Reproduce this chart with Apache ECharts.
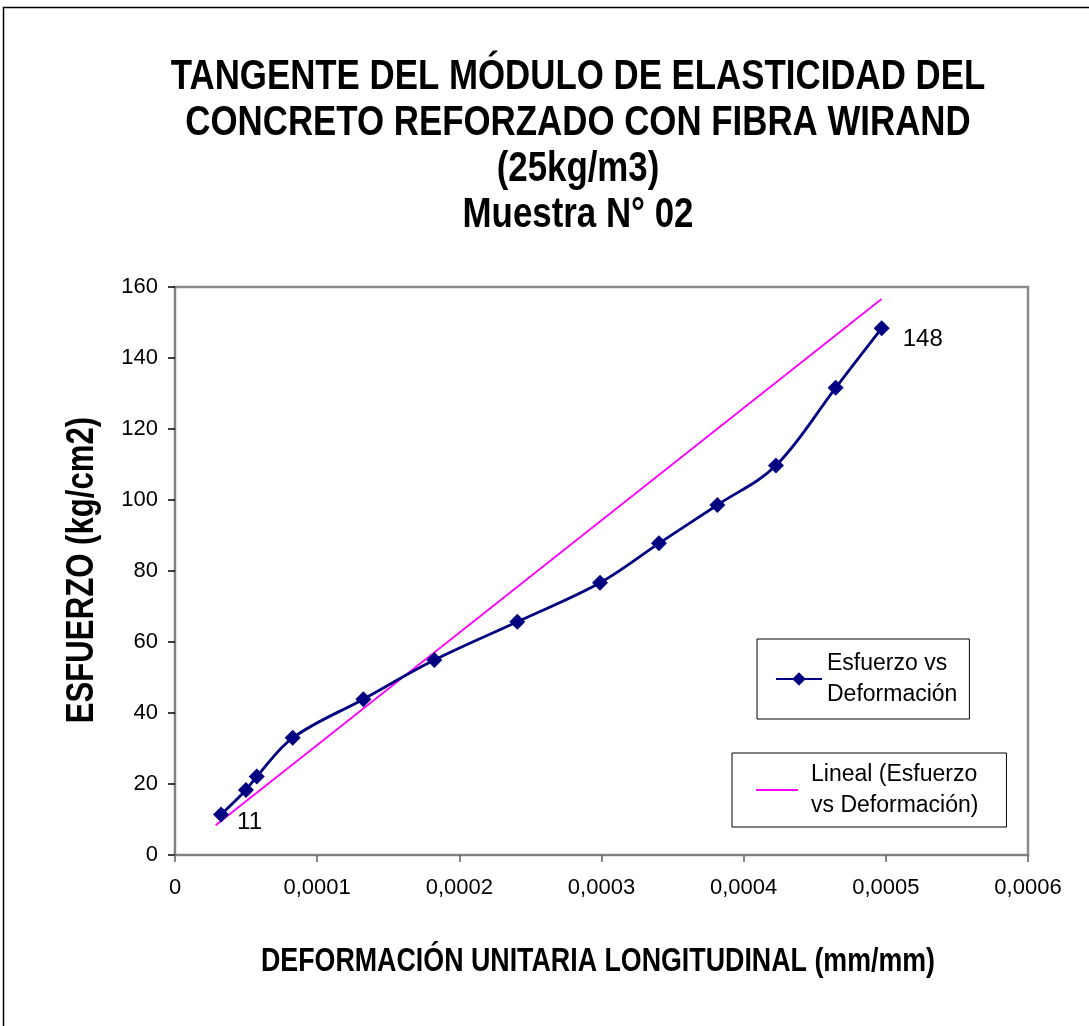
<!DOCTYPE html>
<html>
<head>
<meta charset="utf-8">
<script src="https://cdn.jsdelivr.net/npm/echarts@6/dist/echarts.min.js"></script>
<style>
html,body{margin:0;padding:0;background:#fff;}
#chart{width:1089px;height:1026px;}
</style>
</head>
<body>
<div id="chart"></div>
<script>
// ---- data ----
const strain = [0.0000324, 0.0000499, 0.0000575, 0.0000828, 0.0001325, 0.0001824, 0.0002408, 0.000299, 0.0003404, 0.0003815, 0.0004227, 0.0004647, 0.0004971];
const stress = [11.4, 18.3, 22.1, 33.0, 43.9, 54.9, 65.7, 76.7, 87.8, 98.6, 109.7, 131.6, 148.4];
const trendX = [0.0000286, 0.000497];
const trendY = [8.4, 156.6];
const titleLines = ['TANGENTE DEL MÓDULO DE ELASTICIDAD DEL', 'CONCRETO REFORZADO CON FIBRA WIRAND', '(25kg/m3)', 'Muestra N° 02'];
const seriesName = 'Esfuerzo vs Deformación';
const trendName = 'Lineal (Esfuerzo vs Deformación)';
const xName = 'DEFORMACIÓN UNITARIA LONGITUDINAL (mm/mm)';
const yName = 'ESFUERZO (kg/cm2)';

const FN = "'Liberation Sans', Arial, sans-serif";
const NARROW = 0.82;

const mainData = strain.map((x, i) => {
  const item = { value: [x, stress[i]] };
  if (i === 0) item.label = { show: true, position: 'right', offset: [3, 8] };
  if (i === strain.length - 1) item.label = { show: true, position: 'right', offset: [8, 11] };
  return item;
});
const trendData = trendX.map((x, i) => [x, trendY[i]]);

const chart = echarts.init(document.getElementById('chart'), null, { renderer: 'canvas' });
chart.setOption({
  backgroundColor: '#fff',
  animation: false,
  graphic: [{
    type: 'rect', silent: true, z: -10,
    shape: { x: 3.5, y: 7.5, width: 1200, height: 1200 },
    style: { fill: 'none', stroke: '#000', lineWidth: 1.5 }
  }, {
    type: 'text', silent: true, x: 578, y: 54, scaleX: NARROW,
    style: {
      text: titleLines.join('\n'), fill: '#000', textAlign: 'center', textVerticalAlign: 'top',
      fontFamily: FN, fontWeight: 'bold', fontSize: 42.5, lineHeight: 46
    }
  }, {
    type: 'text', silent: true, x: 83, y: 570, rotation: Math.PI / 2, scaleX: NARROW,
    style: {
      text: yName, fill: '#000', textAlign: 'center', textVerticalAlign: 'middle',
      fontFamily: FN, fontWeight: 'bold', fontSize: 38
    }
  }, {
    type: 'text', silent: true, x: 598, y: 962, scaleX: NARROW,
    style: {
      text: xName, fill: '#000', textAlign: 'center', textVerticalAlign: 'middle',
      fontFamily: FN, fontWeight: 'bold', fontSize: 32.7
    }
  }],
  grid: {
    left: 175, right: 61, top: 287, bottom: 171,
    show: true, borderColor: '#8a8a8a', borderWidth: 2.5, backgroundColor: '#fff'
  },
  legend: [{
    data: [seriesName], left: 757, top: 639, orient: 'vertical',
    padding: [9, 12, 9, 18], borderColor: '#000', borderWidth: 1,
    itemWidth: 46, itemHeight: 17, itemGap: 0,
    formatter: () => 'Esfuerzo vs\nDeformación',
    textStyle: { fontFamily: FN, fontSize: 23, lineHeight: 31, color: '#000' }
  }, {
    data: [trendName], left: 732, top: 753, orient: 'vertical',
    padding: [6, 28, 6, 23], borderColor: '#000', borderWidth: 1,
    itemWidth: 42, itemHeight: 13, itemGap: 0,
    itemStyle: { color: 'rgba(0,0,0,0)', opacity: 0 },
    formatter: () => 'Lineal (Esfuerzo\nvs Deformación)',
    textStyle: { fontFamily: FN, fontSize: 23, lineHeight: 31, color: '#000', padding: [0, 0, 0, 8] }
  }],
  xAxis: {
    type: 'value', min: 0, max: 0.0006, interval: 0.0001,
    axisLine: { show: true, lineStyle: { color: '#808080', width: 2 } },
    axisTick: { show: true, length: 7, lineStyle: { color: '#606060', width: 1.5 } },
    axisLabel: {
      margin: 22, color: '#000', fontFamily: FN, fontSize: 22,
      formatter: v => v === 0 ? '0' : v.toFixed(4).replace('.', ',')
    },
    splitLine: { show: false }
  },
  yAxis: {
    type: 'value', min: 0, max: 160, interval: 20,
    axisLine: { show: true, lineStyle: { color: '#808080', width: 2 } },
    axisTick: { show: true, length: 7, lineStyle: { color: '#000', width: 1.5 } },
    axisLabel: { margin: 17, color: '#000', fontFamily: FN, fontSize: 22 },
    splitLine: { show: false }
  },
  series: [{
    name: trendName, type: 'line', data: trendData,
    symbol: 'none', showSymbol: false, z: 2,
    lineStyle: { color: '#FF00FF', width: 1.8 },
    itemStyle: { color: '#FF00FF' }
  }, {
    name: seriesName, type: 'line', data: mainData,
    smooth: 0.35, symbol: 'diamond', symbolSize: 16, z: 3,
    lineStyle: { color: '#000080', width: 2.8 },
    itemStyle: { color: '#000080' },
    label: {
      show: false, color: '#000', fontFamily: FN, fontSize: 24,
      formatter: p => String(Math.round(p.value[1]))
    }
  }]
});
</script>
</body>
</html>
